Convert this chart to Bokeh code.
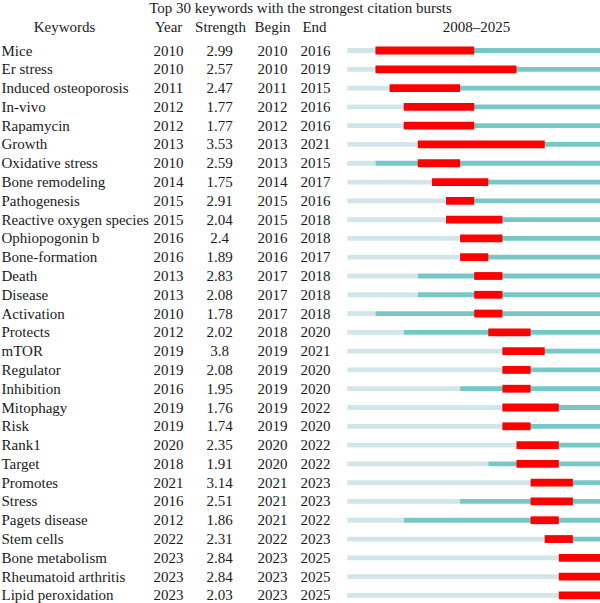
from bokeh.plotting import figure
from bokeh.models import Range1d, ColumnDataSource, LinearAxis
from bokeh.core.properties import value
from bokeh.embed import file_html
from bokeh.resources import INLINE

# ---- data -----------------------------------------------------------------
keywords = ["Mice", "Er stress", "Induced osteoporosis", "In-vivo", "Rapamycin",
            "Growth", "Oxidative stress", "Bone remodeling", "Pathogenesis",
            "Reactive oxygen species", "Ophiopogonin b", "Bone-formation", "Death",
            "Disease", "Activation", "Protects", "mTOR", "Regulator", "Inhibition",
            "Mitophagy", "Risk", "Rank1", "Target", "Promotes", "Stress",
            "Pagets disease", "Stem cells", "Bone metabolism", "Rheumatoid arthritis",
            "Lipid peroxidation"]
years = [2010, 2010, 2011, 2012, 2012, 2013, 2010, 2014, 2015, 2015, 2016, 2016,
         2013, 2013, 2010, 2012, 2019, 2019, 2016, 2019, 2019, 2020, 2018, 2021,
         2016, 2012, 2022, 2023, 2023, 2023]
strengths = ["2.99", "2.57", "2.47", "1.77", "1.77", "3.53", "2.59", "1.75", "2.91",
             "2.04", "2.4", "1.89", "2.83", "2.08", "1.78", "2.02", "3.8", "2.08",
             "1.95", "1.76", "1.74", "2.35", "1.91", "3.14", "2.51", "1.86", "2.31",
             "2.84", "2.84", "2.03"]
begins = [2010, 2010, 2011, 2012, 2012, 2013, 2013, 2014, 2015, 2015, 2016, 2016,
          2017, 2017, 2017, 2018, 2019, 2019, 2019, 2019, 2019, 2020, 2020, 2021,
          2021, 2021, 2022, 2023, 2023, 2023]
ends = [2016, 2019, 2015, 2016, 2016, 2021, 2015, 2017, 2016, 2018, 2018, 2017,
        2018, 2018, 2018, 2020, 2021, 2020, 2020, 2022, 2020, 2022, 2022, 2023,
        2023, 2022, 2023, 2025, 2025, 2025]
first_year, last_year = 2008, 2025
title = "Top 30 keywords with the strongest citation bursts"
headers = ["Keywords", "Year", "Strength", "Begin", "End", "2008\u20132025"]

# ---- layout ---------------------------------------------------------------
W, H = 600, 603
row_top, row_step = 50.0, 18.79          # pixel centre of first row, row pitch
tl_left, tl_right = 346.8, 600.6         # pixel extent of the timeline
px_per_year = (tl_right - tl_left) / (last_year + 1 - first_year)

FONT = value("Liberation Serif")
FS = "15px"
INK = "#1a1a1a"
LIGHT = "#d2e6e9"
TEAL = "#77c7c7"
RED = "#ff0000"

n = len(keywords)
rows = list(range(n))

p = figure(width=W, height=H, output_backend="svg", toolbar_location=None,
           x_range=Range1d(0, W),
           y_range=Range1d((H - row_top) / row_step, -row_top / row_step),
           min_border=0, outline_line_color=None)
p.axis.visible = False
p.grid.visible = False
p.background_fill_color = "white"
p.border_fill_color = "white"

# year scale for the timeline column
p.extra_x_ranges = {"yr": Range1d(first_year - tl_left / px_per_year,
                                  first_year + (W - tl_left) / px_per_year)}

src = ColumnDataSource(dict(
    row=rows, kw=keywords, year=[str(y) for y in years], strength=strengths,
    begin=[str(b) for b in begins], end=[str(e) for e in ends],
    y0=[first_year] * n, ya=years, b0=begins, e1=[e + 1 for e in ends],
    full=[last_year + 1] * n,
))

line_h = 4.8 / row_step
red_h = 7.8 / row_step

# before the keyword first appears
p.hbar(y="row", left="y0", right="ya", height=line_h, source=src,
       x_range_name="yr", fill_color=LIGHT, line_color=None)
# after first appearance
p.hbar(y="row", left="ya", right="full", height=line_h, source=src,
       x_range_name="yr", fill_color=TEAL, line_color=None)
# burst interval
p.hbar(y="row", left="b0", right="e1", height=red_h, source=src,
       x_range_name="yr", fill_color=RED, line_color=None)

common = dict(source=src, text_font=FONT, text_font_size=FS, text_color=INK,
              text_baseline="middle")
p.text(x=1, y="row", text="kw", text_align="left", **common)
p.text(x=168, y="row", text="year", text_align="center", **common)
p.text(x=219, y="row", text="strength", text_align="center", **common)
p.text(x=272, y="row", text="begin", text_align="center", **common)
p.text(x=315, y="row", text="end", text_align="center", **common)

hdr_y = (26.5 - row_top) / row_step
p.text(x=[64, 168, 220, 272, 314, 476], y=[hdr_y] * 6, text=headers,
       text_align="center", text_baseline="middle", text_font=FONT,
       text_font_size=FS, text_color=INK)
p.text(x=[300], y=[(7.5 - row_top) / row_step], text=[title], text_align="center",
       text_baseline="middle", text_font=FONT, text_font_size=FS, text_color=INK)

open("out.html", "w").write(file_html(p, INLINE))
